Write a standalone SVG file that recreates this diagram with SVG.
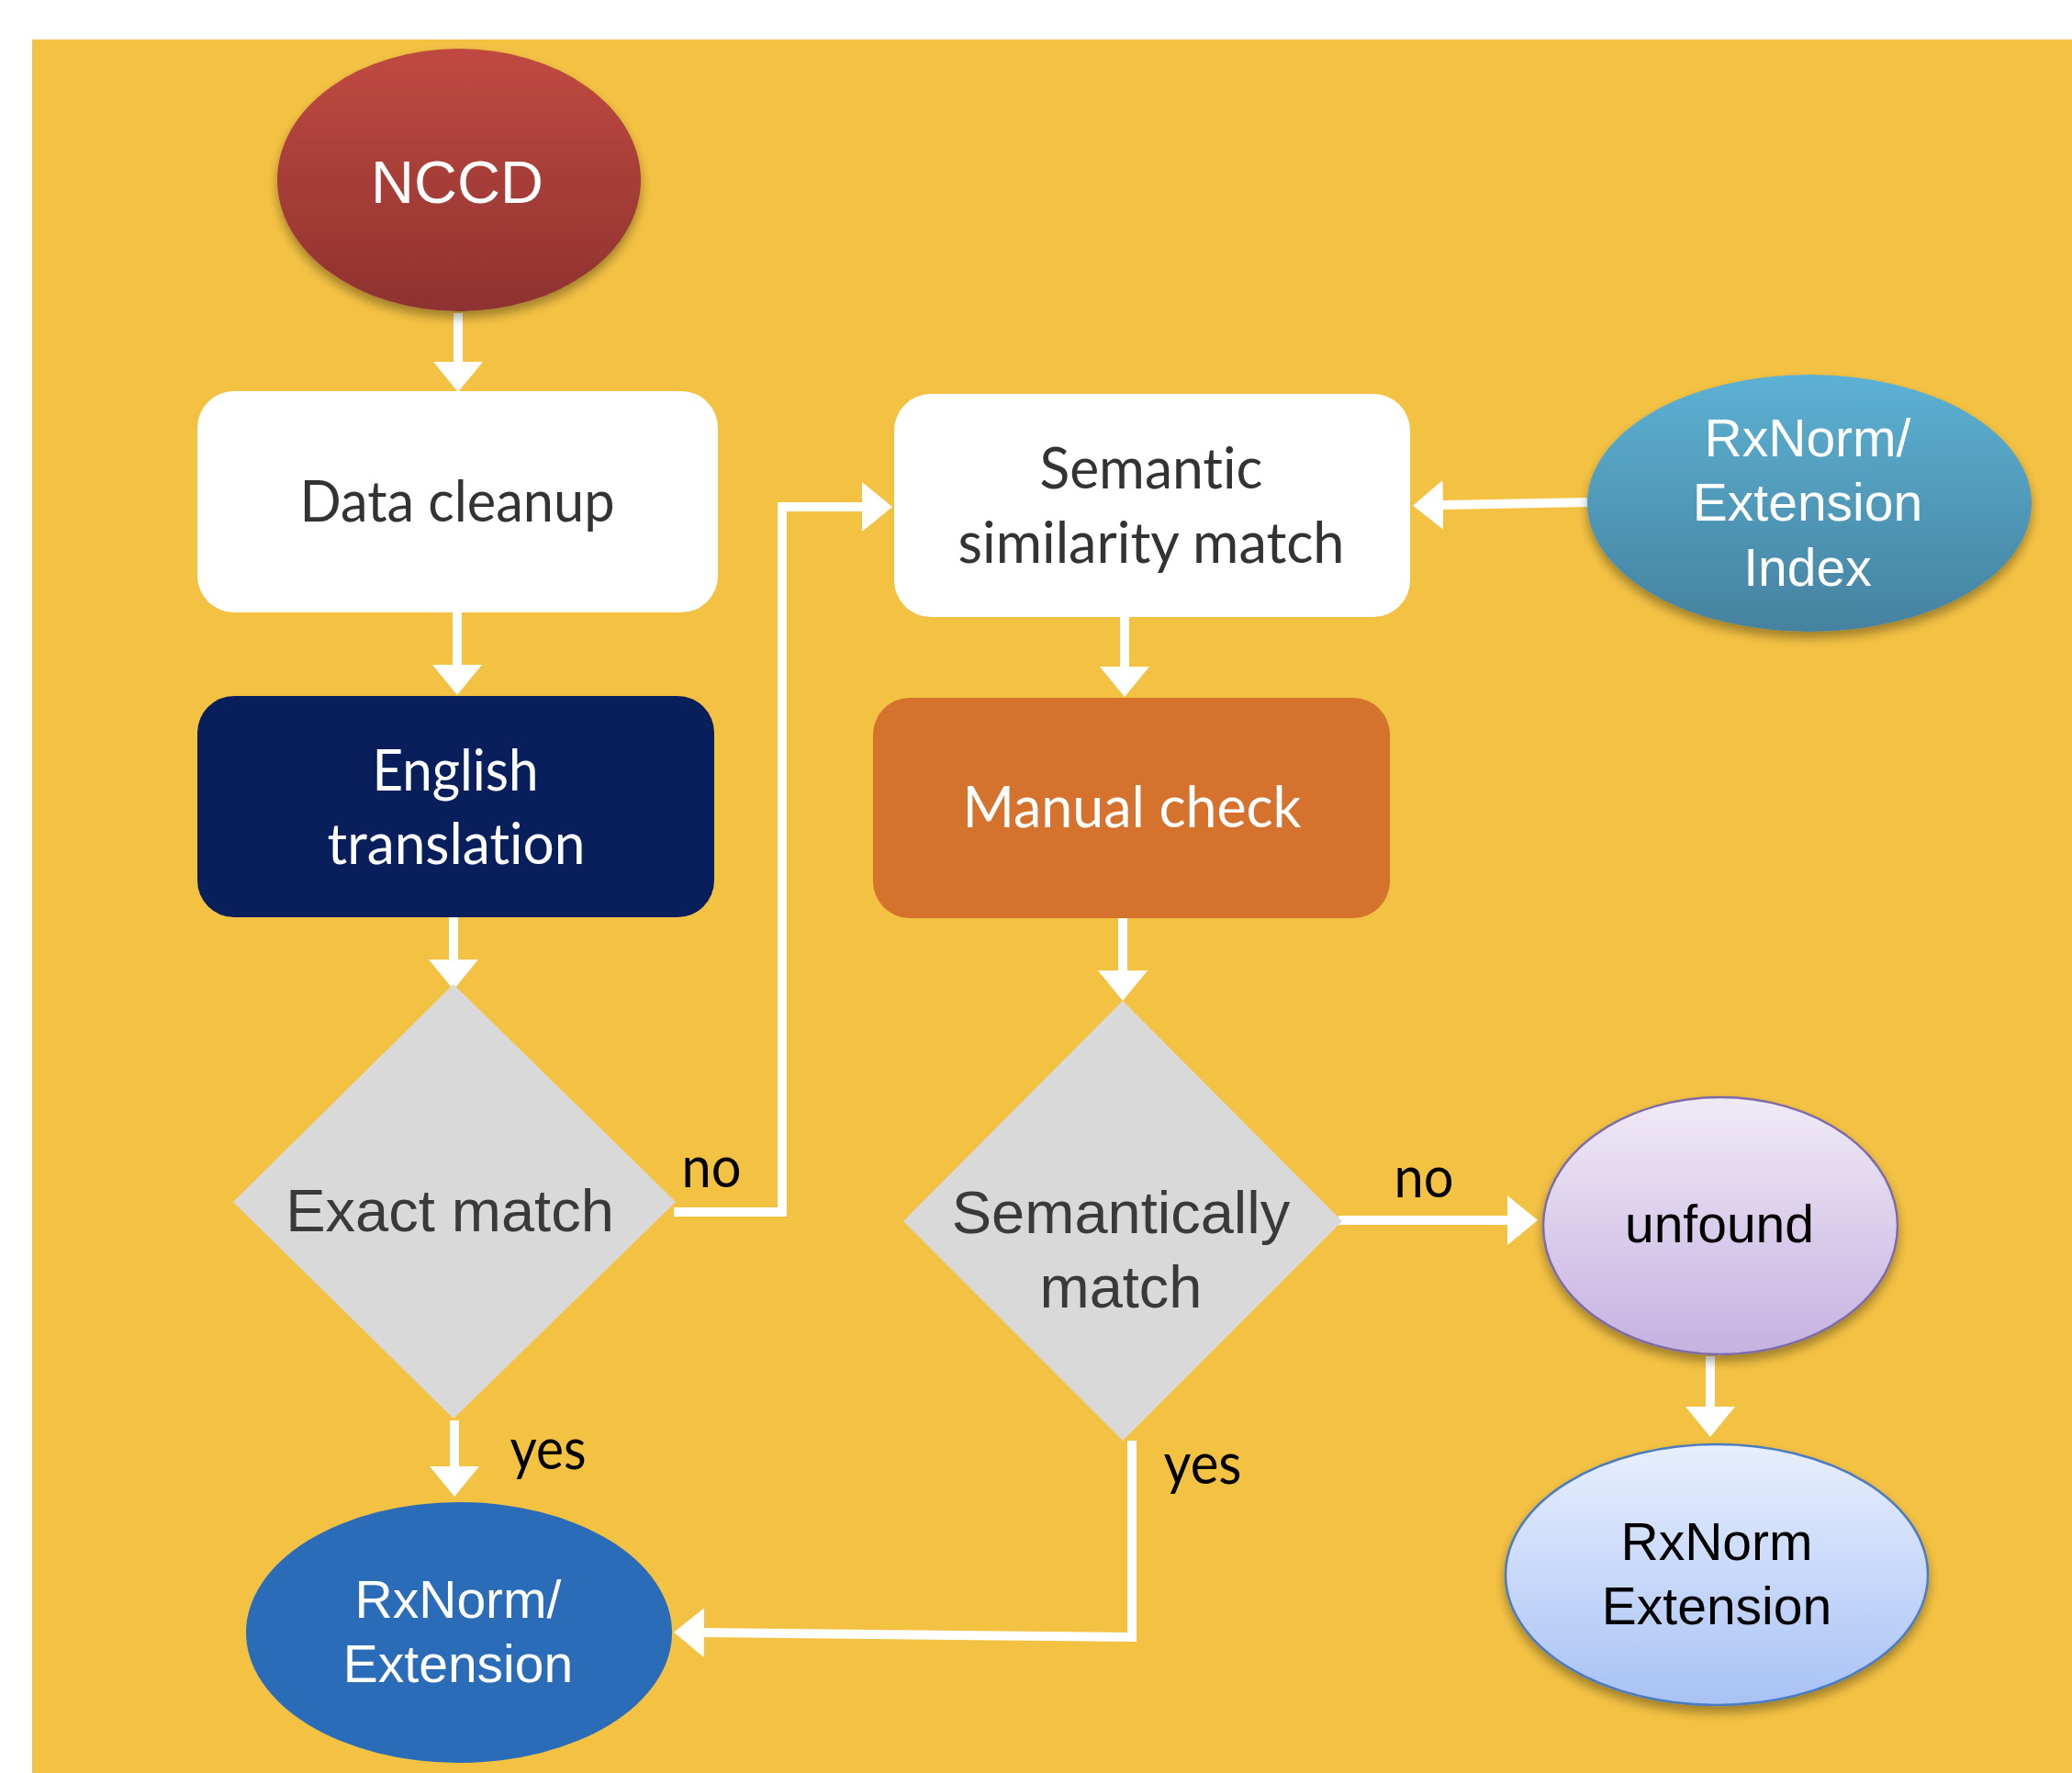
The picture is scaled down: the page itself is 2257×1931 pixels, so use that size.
<svg xmlns="http://www.w3.org/2000/svg" width="2257" height="1931" viewBox="0 0 2257 1931">
<style>
.sans{font-family:"Liberation Sans",Arial,sans-serif;text-anchor:middle}
.cal{font-family:Lato,"Open Sans",sans-serif;text-anchor:middle;font-variant-ligatures:none;font-feature-settings:"liga" 0,"clig" 0}
.conn{fill:none;stroke:#FFFFFF;stroke-width:10;marker-end:url(#ah)}
</style>
<defs>
<marker id="ah" markerUnits="userSpaceOnUse" markerWidth="34" markerHeight="54" refX="0" refY="27" orient="auto" viewBox="0 0 34 54">
<path d="M0,0 L33,27 L0,54 Z" fill="#FFFFFF"/>
</marker>
<linearGradient id="gRed" x1="0" y1="0" x2="0" y2="1"><stop offset="0" stop-color="#C04A41"/><stop offset="1" stop-color="#8E3230"/></linearGradient>
<linearGradient id="gTeal" x1="0" y1="0" x2="0" y2="1"><stop offset="0" stop-color="#5CB1D4"/><stop offset="1" stop-color="#45829F"/></linearGradient>
<linearGradient id="gPurple" x1="0" y1="0" x2="0" y2="1"><stop offset="0" stop-color="#F0EAF7"/><stop offset="1" stop-color="#C5B2E0"/></linearGradient>
<linearGradient id="gLblue" x1="0" y1="0" x2="0" y2="1"><stop offset="0" stop-color="#E8EFFD"/><stop offset="1" stop-color="#A8C2F5"/></linearGradient>
<filter id="sh" x="-20%" y="-20%" width="140%" height="150%">
<feDropShadow dx="0" dy="7" stdDeviation="6" flood-color="#000000" flood-opacity="0.35"/>
</filter>
</defs>
<rect x="0" y="0" width="2257" height="1931" fill="#FFFFFF"/>
<rect x="35" y="43" width="2222" height="1888" fill="#F4C243"/>

<g id="connectors">
<path class="conn" d="M499,341 V394"/>
<path class="conn" d="M498,666 V724"/>
<path class="conn" d="M494,993 V1045"/>
<path class="conn" d="M495,1547 V1597"/>
<path class="conn" d="M734,1320 H852 V552 H939"/>
<path class="conn" d="M1729,547 L1572,550"/>
<path class="conn" d="M1225,671 V726"/>
<path class="conn" d="M1223,1000 V1057"/>
<path class="conn" d="M1458,1329 H1642"/>
<path class="conn" d="M1863,1477 V1532"/>
<path class="conn" d="M1233,1569 V1783 L767,1778"/>
</g>

<g id="nccd">
<ellipse cx="500" cy="196" rx="198" ry="143" fill="url(#gRed)" filter="url(#sh)"/>
<text class="sans" x="498" y="221" font-size="65" fill="#FFFFFF">NCCD</text>
</g>

<g id="data-cleanup">
<rect x="215" y="426" width="567" height="241" rx="40" fill="#FFFFFF"/>
<text class="cal" x="498" y="568" font-size="62" fill="#333333" textLength="343" lengthAdjust="spacingAndGlyphs">Data cleanup</text>
</g>

<g id="english-translation">
<rect x="215" y="758" width="563" height="241" rx="40" fill="#081F5B"/>
<text class="cal" x="496" y="861" font-size="62" fill="#FFFFFF" textLength="181" lengthAdjust="spacingAndGlyphs">English</text>
<text class="cal" x="497" y="941" font-size="62" fill="#FFFFFF" textLength="281" lengthAdjust="spacingAndGlyphs">translation</text>
</g>

<g id="exact-match">
<polygon points="494,1072 736,1309 494,1545 254,1309" fill="#D9D9D9"/>
<text class="sans" x="490" y="1341" font-size="65" fill="#3A3A3A">Exact match</text>
</g>

<g id="semantic-similarity">
<rect x="974" y="429" width="562" height="243" rx="40" fill="#FFFFFF"/>
<text class="cal" x="1254" y="532" font-size="62" fill="#333333" textLength="243" lengthAdjust="spacingAndGlyphs">Semantic</text>
<text class="cal" x="1254" y="613" font-size="62" fill="#333333" textLength="421" lengthAdjust="spacingAndGlyphs">similarity match</text>
</g>

<g id="rxnorm-index">
<ellipse cx="1971" cy="548" rx="242" ry="140" fill="url(#gTeal)" filter="url(#sh)"/>
<text class="sans" x="1969" y="497" font-size="57" fill="#FFFFFF">RxNorm/</text>
<text class="sans" x="1969" y="567" font-size="57" fill="#FFFFFF">Extension</text>
<text class="sans" x="1969" y="638" font-size="57" fill="#FFFFFF">Index</text>
</g>

<g id="manual-check">
<rect x="951" y="760" width="563" height="240" rx="40" fill="#D5722E"/>
<text class="cal" x="1233" y="901" font-size="62" fill="#FFFFFF" textLength="369" lengthAdjust="spacingAndGlyphs">Manual check</text>
</g>

<g id="semantically-match">
<polygon points="1223,1090 1462,1330 1223,1569 984,1330" fill="#D9D9D9"/>
<text class="sans" x="1221" y="1343" font-size="65" fill="#3A3A3A">Semantically</text>
<text class="sans" x="1221" y="1424" font-size="65" fill="#3A3A3A">match</text>
</g>

<g id="unfound">
<ellipse cx="1874" cy="1335" rx="193" ry="140" fill="url(#gPurple)" stroke="#7D6BA8" stroke-width="2.5" filter="url(#sh)"/>
<text class="sans" x="1873" y="1353" font-size="57" fill="#000000">unfound</text>
</g>

<g id="rxnorm-extension">
<ellipse cx="1870" cy="1715" rx="230" ry="142" fill="url(#gLblue)" stroke="#4B7BBF" stroke-width="2.5" filter="url(#sh)"/>
<text class="sans" x="1870" y="1699" font-size="57" fill="#000000">RxNorm</text>
<text class="sans" x="1870" y="1769" font-size="57" fill="#000000">Extension</text>
</g>

<g id="rxnorm-ext-result">
<ellipse cx="500" cy="1778" rx="232" ry="142" fill="#2B6CB8"/>
<text class="sans" x="499" y="1762" font-size="57" fill="#FFFFFF">RxNorm/</text>
<text class="sans" x="499" y="1832" font-size="57" fill="#FFFFFF">Extension</text>
</g>

<g id="labels">
<text class="cal" x="775" y="1293" font-size="62" fill="#000000" textLength="65" lengthAdjust="spacingAndGlyphs">no</text>
<text class="cal" x="597" y="1600" font-size="62" fill="#000000" textLength="83" lengthAdjust="spacingAndGlyphs">yes</text>
<text class="cal" x="1551" y="1304" font-size="62" fill="#000000" textLength="65" lengthAdjust="spacingAndGlyphs">no</text>
<text class="cal" x="1310" y="1616" font-size="62" fill="#000000" textLength="85" lengthAdjust="spacingAndGlyphs">yes</text>
</g>
</svg>
